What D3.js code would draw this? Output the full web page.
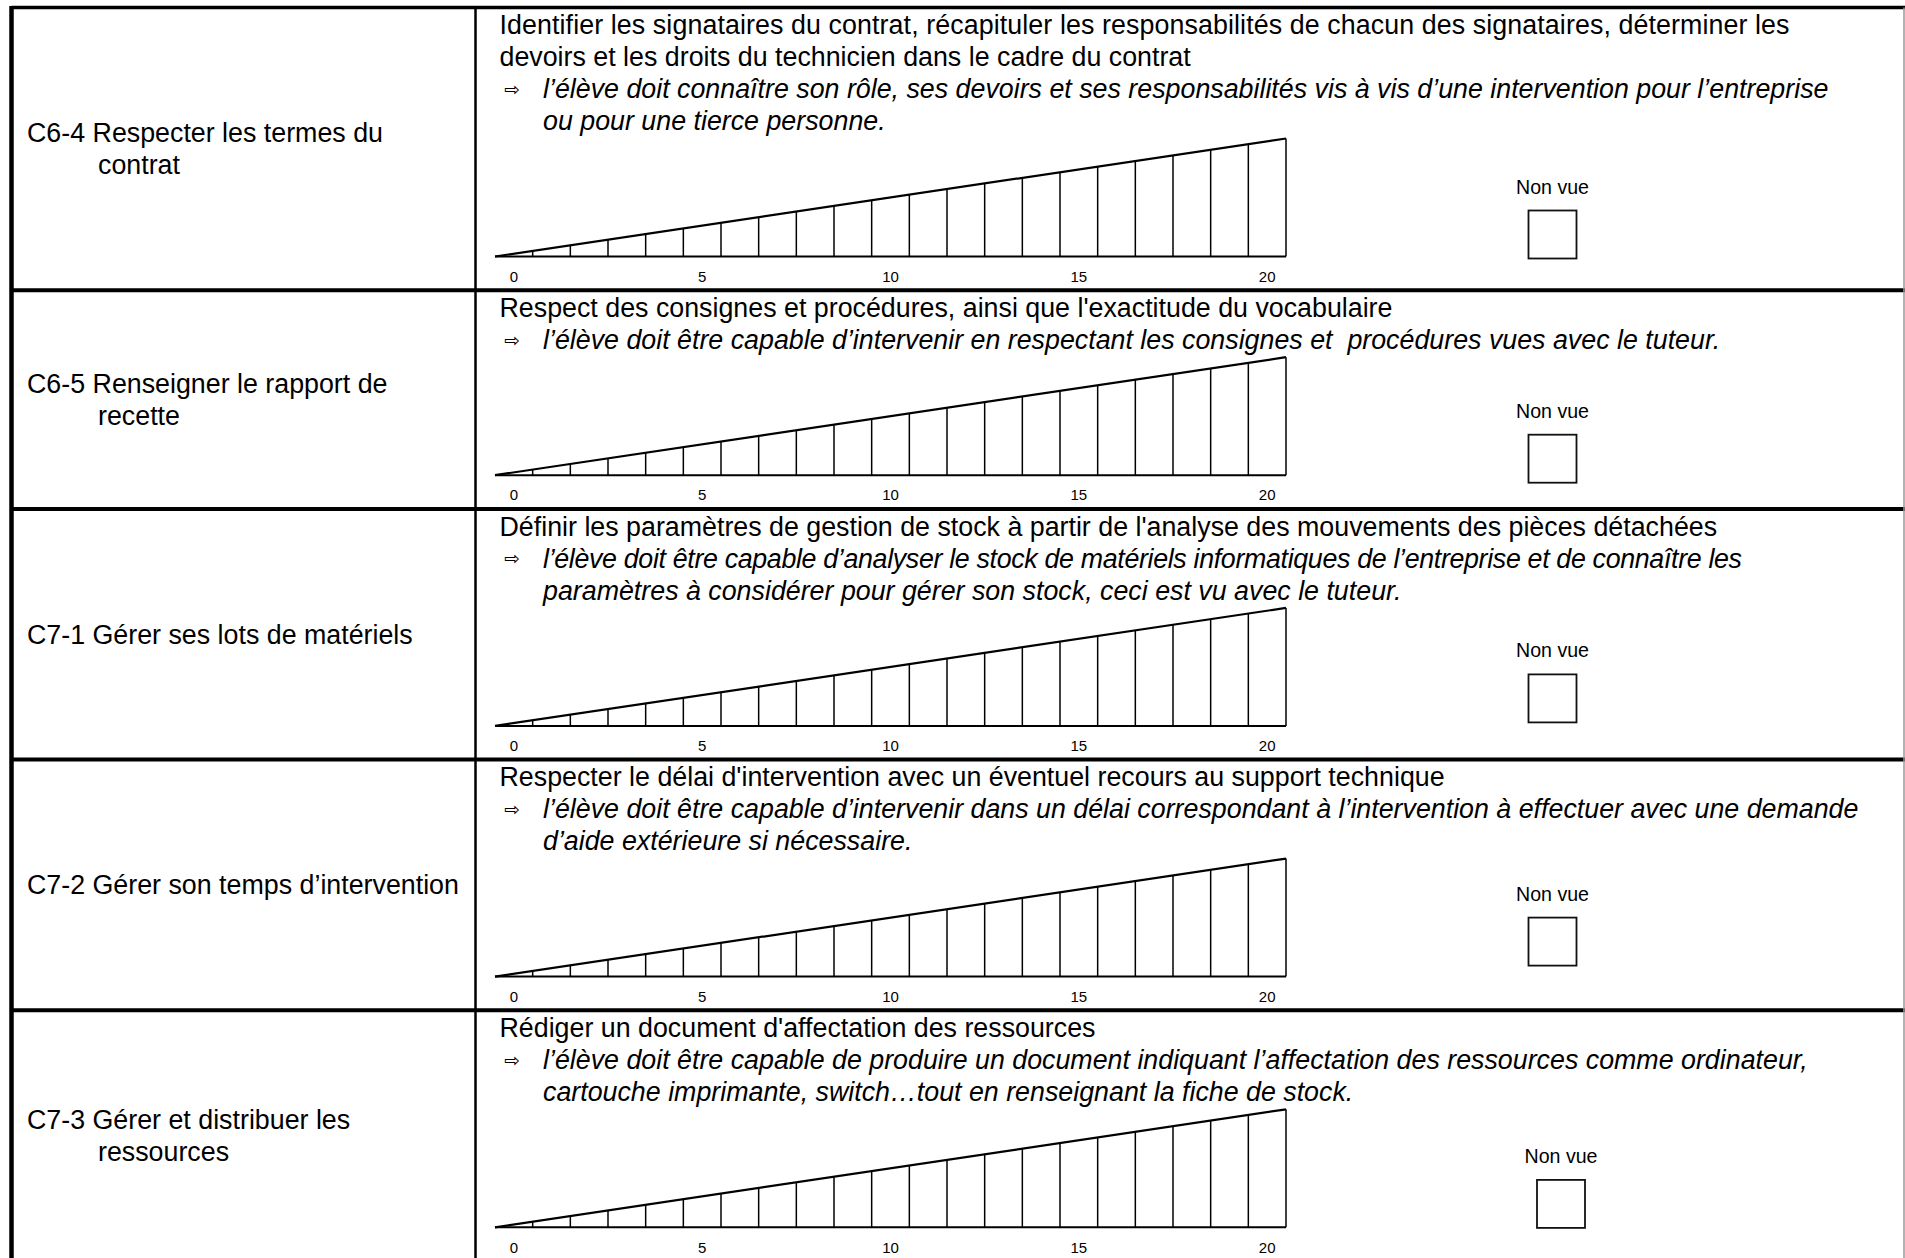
<!DOCTYPE html>
<html>
<head>
<meta charset="utf-8">
<script src="https://cdn.jsdelivr.net/npm/d3@7"></script>
<style>
  html, body { margin: 0; padding: 0; background: #fff; }
  svg { display: block; }
  text { font-family: "Liberation Sans", Arial, sans-serif; fill: #000; }
</style>
</head>
<body>
<svg id="chart" width="1905" height="1258"></svg>
<script>
// ---------- DATA ----------
const competences = [
  ["C6-4 Respecter les termes du", "contrat"],
  ["C6-5 Renseigner le rapport de", "recette"],
  ["C7-1 Gérer ses lots de matériels"],
  ["C7-2 Gérer son temps d’intervention"],
  ["C7-3 Gérer et distribuer les", "ressources"]
];
const criteres = [
  ["Identifier les signataires du contrat, récapituler les responsabilités de chacun des signataires, déterminer les",
   "devoirs et les droits du technicien dans le cadre du contrat"],
  ["Respect des consignes et procédures, ainsi que l'exactitude du vocabulaire"],
  ["Définir les paramètres de gestion de stock à partir de l'analyse des mouvements des pièces détachées"],
  ["Respecter le délai d'intervention avec un éventuel recours au support technique"],
  ["Rédiger un document d'affectation des ressources"]
];
const attendus = [
  ["l’élève doit connaître son rôle, ses devoirs et ses responsabilités vis à vis d’une intervention pour l’entreprise",
   "ou pour une tierce personne."],
  ["l’élève doit être capable d’intervenir en respectant les consignes et  procédures vues avec le tuteur."],
  ["l’élève doit être capable d’analyser le stock de matériels informatiques de l’entreprise et de connaître les",
   "paramètres à considérer pour gérer son stock, ceci est vu avec le tuteur."],
  ["l’élève doit être capable d’intervenir dans un délai correspondant à l’intervention à effectuer avec une demande",
   "d’aide extérieure si nécessaire."],
  ["l’élève doit être capable de produire un document indiquant l’affectation des ressources comme ordinateur,",
   "cartouche imprimante, switch…tout en renseignant la fiche de stock."]
];
const gradeValues = [0,1,2,3,4,5,6,7,8,9,10,11,12,13,14,15,16,17,18,19,20];
const rampLevels  = [0,1,2,3,4,5,6,7,8,9,10,11,12,13,14,15,16,17,18,19,20,21];
const tickLabels  = [0,5,10,15,20];
const nonVueLabel = "Non vue";

// ---------- LAYOUT ----------
const W = 1905, H = 1258;
const tableLeft = 11.5, tableTop = 7.5, colDiv = 475.5, tableRight = 1904;
const fontMain = 26.8, fontNonVue = 19.6, fontTick = 15;
const lineH = 32, padTop = 17.5, gapRamp = 17.5, rampH = 118, padBottom = 33.7;
const rampX0 = 495, rampX1 = 1286;
const plainX = 499.5, arrowX = 504, italicX = 543;
const labelX = 27, labelIndentX = 98, labelLineH = 32;
// Non vue block placement per row (offset of label centre from ramp base, x centre)
const nonVueDy = [-70, -64.5, -75.5, -83, -71.4];
const nonVueCx = [1552.5, 1552.5, 1552.5, 1552.5, 1561];
const boxSize = 48, boxGap = 24;
// justified line widths (row, line index within row) as laid out in the source document
const fitWidths = { "0-0": 1290, "2-1": 1199 };

const svg = d3.select("#chart");
svg.append("rect").attr("width", W).attr("height", H).attr("fill", "#fff");

const x = d3.scaleBand().domain(gradeValues).range([rampX0, rampX1]).padding(0);
const lvl = d3.scaleLinear().domain([0, d3.max(rampLevels)]).range([0, rampH]);
const boundaryX = l => rampX0 + l * x.bandwidth();

let rowTop = tableTop;
const rowLines = [tableTop];

competences.forEach((comp, r) => {
  const g = svg.append("g");
  const lines = criteres[r].map(t => ({t, it: false})).concat(attendus[r].map(t => ({t, it: true})));
  const centers = lines.map((d, i) => rowTop + padTop + i * lineH);
  const rampTop = centers[centers.length - 1] + gapRamp;
  const base = rampTop + rampH;
  const bottom = base + padBottom;

  // right-hand text
  lines.forEach((d, i) => {
    const t = g.append("text")
      .attr("x", d.it ? italicX : plainX)
      .attr("y", centers[i] + 9.3)
      .attr("font-size", fontMain)
      .attr("font-style", d.it ? "italic" : "normal")
      .attr("xml:space", "preserve")
      .style("white-space", "pre")
      .text(d.t);
    const fw = fitWidths[r + "-" + i];
    if (fw) t.attr("textLength", fw).attr("lengthAdjust", "spacing");
  });
  // arrow glyph before the first italic line
  const firstIt = criteres[r].length;
  g.append("text")
    .attr("x", arrowX).attr("y", centers[firstIt] + 7)
    .attr("font-size", 19)
    .style("font-family", "'DejaVu Sans', sans-serif")
    .attr("fill", "#222")
    .text("⇨");

  // left label (vertically centred)
  const mid = (rowTop + bottom) / 2;
  const n = comp.length;
  comp.forEach((t, i) => {
    g.append("text")
      .attr("x", i === 0 ? labelX : labelIndentX)
      .attr("y", mid + (i - (n - 1) / 2) * labelLineH + 9.3)
      .attr("font-size", fontMain)
      .text(t);
  });

  // ramp scale
  const rg = g.append("g");
  rg.append("line")
    .attr("x1", rampX0).attr("x2", rampX1).attr("y1", base).attr("y2", base)
    .attr("stroke", "#000").attr("stroke-width", 2);
  rg.selectAll("line.v").data(rampLevels.slice(1)).join("line")
    .attr("class", "v")
    .attr("x1", d => boundaryX(d)).attr("x2", d => boundaryX(d))
    .attr("y1", base).attr("y2", d => base - lvl(d))
    .attr("stroke", "#000").attr("stroke-width", 1.5);
  rg.append("path")
    .datum([rampLevels[0], rampLevels[rampLevels.length - 1]])
    .attr("d", d3.line().x(d => boundaryX(d)).y(d => base - lvl(d)))
    .attr("stroke", "#000").attr("stroke-width", 2.2).attr("fill", "none");

  const axis = d3.axisBottom(x).tickValues(tickLabels).tickSize(0).tickPadding(0);
  const ag = rg.append("g").attr("transform", `translate(0,${base + 20})`).call(axis);
  ag.select(".domain").remove();
  ag.selectAll("text")
    .attr("dy", "0.35em").attr("y", 0)
    .attr("font-size", fontTick)
    .style("font-family", "'Liberation Sans', Arial, sans-serif")
    .attr("fill", "#000");

  // Non vue
  const nvc = base + nonVueDy[r];
  g.append("text")
    .attr("x", nonVueCx[r]).attr("y", nvc + 7)
    .attr("text-anchor", "middle")
    .attr("font-size", fontNonVue)
    .text(nonVueLabel);
  g.append("rect")
    .attr("x", nonVueCx[r] - boxSize / 2).attr("y", nvc + boxGap)
    .attr("width", boxSize).attr("height", boxSize)
    .attr("fill", "none").attr("stroke", "#111").attr("stroke-width", 1.8);

  rowTop = bottom;
  rowLines.push(bottom);
});

// ---------- TABLE GRID ----------
const grid = svg.append("g");
grid.append("line").attr("x1", tableLeft).attr("x2", W).attr("y1", tableTop).attr("y2", tableTop)
  .attr("stroke", "#000").attr("stroke-width", 3.5);
rowLines.slice(1).forEach(y => {
  grid.append("line").attr("x1", tableLeft).attr("x2", W).attr("y1", y).attr("y2", y)
    .attr("stroke", "#000").attr("stroke-width", 4);
});
grid.append("line").attr("x1", tableLeft).attr("x2", tableLeft).attr("y1", tableTop - 1.5).attr("y2", H)
  .attr("stroke", "#000").attr("stroke-width", 4.5);
grid.append("line").attr("x1", colDiv).attr("x2", colDiv).attr("y1", tableTop).attr("y2", H)
  .attr("stroke", "#000").attr("stroke-width", 2.5);
grid.append("line").attr("x1", tableRight).attr("x2", tableRight).attr("y1", tableTop).attr("y2", H)
  .attr("stroke", "#999").attr("stroke-width", 1.5);
</script>
</body>
</html>
